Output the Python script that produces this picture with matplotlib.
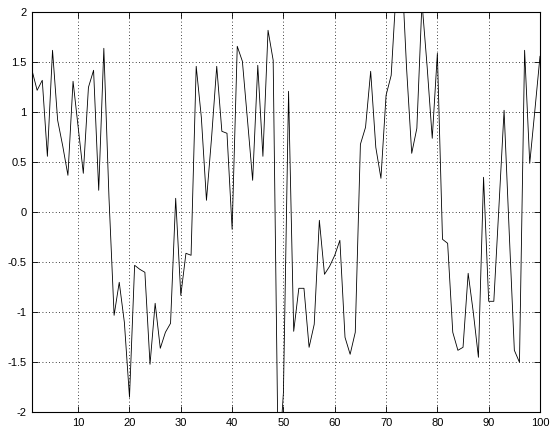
import matplotlib
matplotlib.use("Agg")
import matplotlib.pyplot as plt
import numpy as np

x_index = list(range(1, 101))
values = [
    1.42, 1.22, 1.32, 0.56, 1.62, 0.92, 0.66, 0.37, 1.31, 0.85,
    0.39, 1.25, 1.42, 0.22, 1.64, 0.15, -1.03, -0.70, -1.10, -1.85,
    -0.53, -0.57, -0.60, -1.52, -0.91, -1.36, -1.20, -1.11, 0.14, -0.83,
    -0.41, -0.43, 1.46, 0.95, 0.12, 0.75, 1.46, 0.81, 0.79, -0.17,
    1.66, 1.51, 0.92, 0.32, 1.47, 0.56, 1.82, 1.52, -2.60, -1.80,
    1.21, -1.19, -0.76, -0.76, -1.35, -1.12, -0.08, -0.62, -0.54, -0.43,
    -0.28, -1.25, -1.42, -1.20, 0.68, 0.85, 1.41, 0.65, 0.34, 1.17,
    1.37, 2.25, 2.50, 1.44, 0.59, 0.84, 2.10, 1.46, 0.74, 1.59,
    -0.27, -0.31, -1.20, -1.38, -1.35, -0.61, -1.00, -1.45, 0.35, -0.89,
    -0.89, 0.06, 1.02, -0.20, -1.38, -1.50, 1.62, 0.49, 1.02, 1.56,
]
xticks = [10, 20, 30, 40, 50, 60, 70, 80, 90, 100]
xticklabels = ["10", "20", "30", "40", "50", "60", "70", "80", "90", "100"]
yticks = [-2, -1.5, -1, -0.5, 0, 0.5, 1, 1.5, 2]
yticklabels = ["-2", "-1.5", "-1", "-0.5", "0", "0.5", "1", "1.5", "2"]

plt.rcParams['font.family'] = ['Liberation Sans', 'DejaVu Sans']
fig = plt.figure(figsize=(5.55, 4.33), dpi=100)
ax = fig.add_axes([32/555, 1 - 412.3/433, (540-32)/555, 400/433])
ax.plot(x_index, values, color='black', linewidth=0.6)
ax.set_xlim(1, 100)
ax.set_ylim(-2, 2)
ax.set_xticks(xticks)
ax.set_xticklabels(xticklabels)
ax.set_yticks(yticks)
ax.set_yticklabels(yticklabels)
ax.grid(True, linestyle=(0, (1, 3)), color='black', linewidth=0.6)
ax.tick_params(direction='in', length=4, width=0.6, labelsize=8,
               top=True, right=True, pad=4)
for s in ax.spines.values():
    s.set_linewidth(0.8)
fig.savefig("out.png", dpi=100)
